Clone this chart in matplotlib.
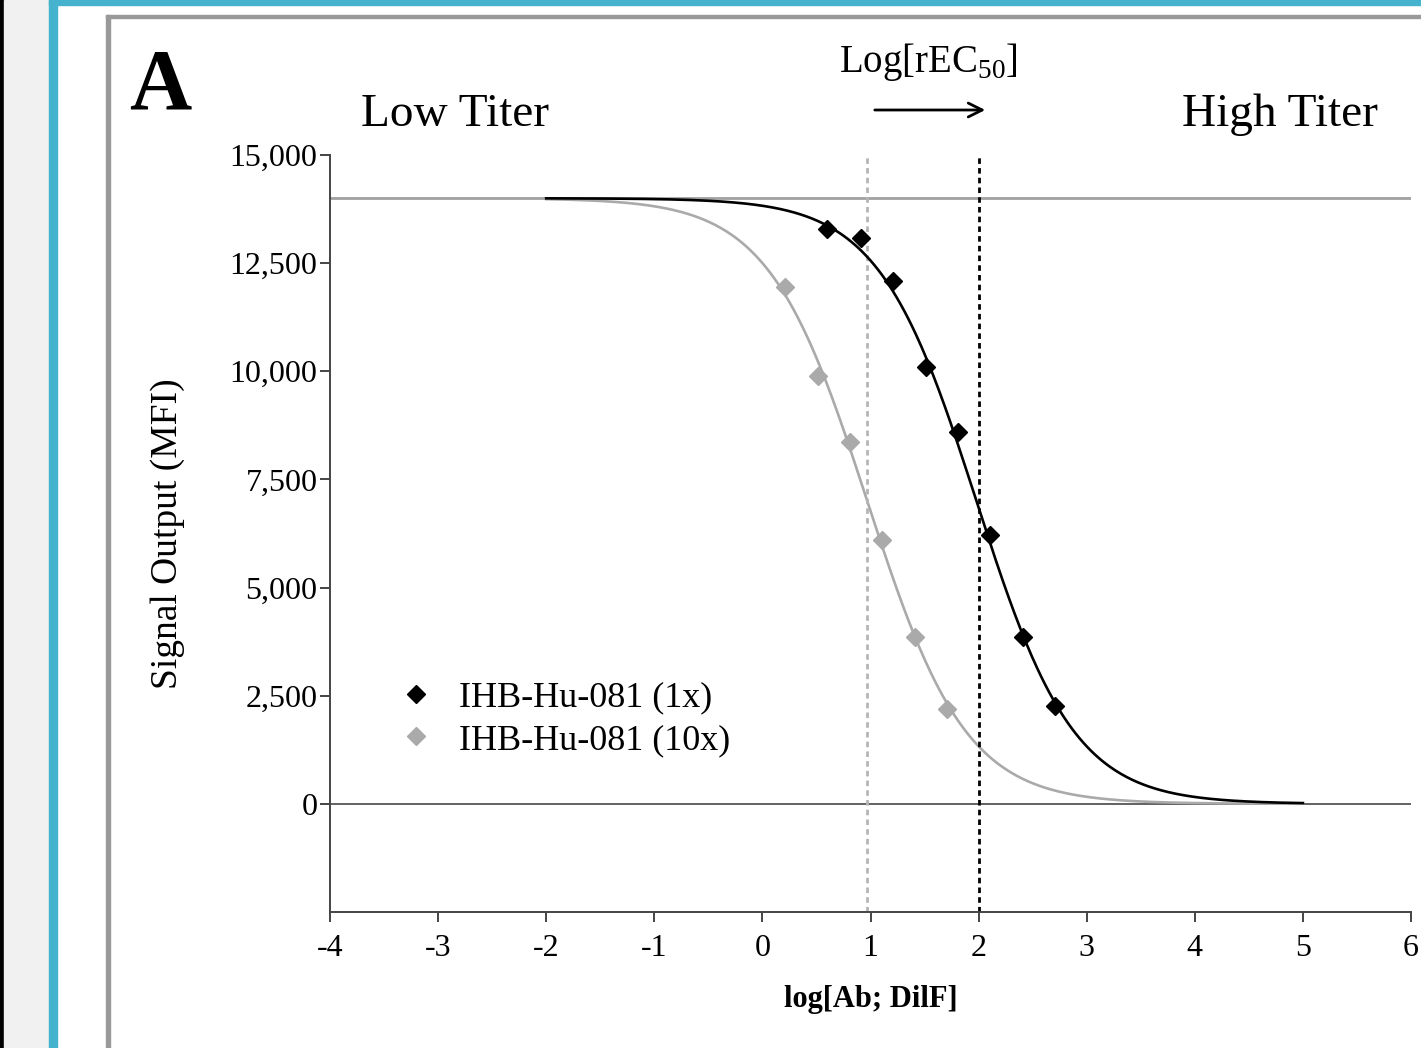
import numpy as np
import matplotlib
matplotlib.use('Agg')
import matplotlib.pyplot as plt
from matplotlib.patches import Rectangle

plt.rcParams['font.family'] = ['Liberation Serif', 'DejaVu Serif']
plt.rcParams['mathtext.fontset'] = 'custom'
plt.rcParams['mathtext.rm'] = 'Liberation Serif'

# data points
x_1x = [0.60, 0.91, 1.21, 1.51, 1.81, 2.11, 2.41, 2.71]
y_1x = [13300, 13080, 12080, 10100, 8600, 6210, 3860, 2260]
x_10x = [0.21, 0.51, 0.81, 1.11, 1.41, 1.71]
y_10x = [11950, 9890, 8360, 6100, 3860, 2200]

# 4PL fit parameters (top, bottom, logEC50, hill)
fit_1x = (14000, 0, 1.98, 0.96)
fit_10x = (14000, 0, 0.97, 0.95)
curve_range = (-2, 5)

xticks = [-4, -3, -2, -1, 0, 1, 2, 3, 4, 5, 6]
yticks = [0, 2500, 5000, 7500, 10000, 12500, 15000]

W, H = 1421, 1048
fig = plt.figure(figsize=(W / 100, H / 100), dpi=100)


def fx(px):
    return px / W


def fy(py):
    return 1 - py / H


# page decorations around the panel
fig.patches.append(Rectangle((0, 0), fx(4), 1, transform=fig.transFigure, color='black'))
fig.patches.append(Rectangle((fx(4), 0), fx(45), 1, transform=fig.transFigure, color='#f1f1f1'))
fig.patches.append(Rectangle((fx(49), 0), fx(8), 1, transform=fig.transFigure, color='#45b3cd'))
fig.patches.append(Rectangle((fx(49), fy(5)), 1, 5 / H, transform=fig.transFigure, color='#45b3cd'))
fig.patches.append(Rectangle((fx(106), 0), fx(4), fy(15), transform=fig.transFigure, color='#999999'))
fig.patches.append(Rectangle((fx(106), fy(18)), 1, 3 / H, transform=fig.transFigure, color='#999999'))

ax = fig.add_axes([fx(330), fy(912), fx(1411 - 330), (912 - 155) / H])
ax.set_xlim(-4, 6)
ax.set_ylim(-2500, 15000)


def four_pl(x, p):
    top, bottom, ec50, h = p
    return bottom + (top - bottom) / (1 + 10 ** ((x - ec50) * h))


xs = np.linspace(curve_range[0], curve_range[1], 400)

ax.axhline(14000, color='#a0a0a0', lw=2.0, zorder=1)
ax.axhline(0, color='#555555', lw=1.3, zorder=1)
ax.plot(xs, four_pl(xs, fit_10x), color='#aaaaaa', lw=1.9, zorder=2)
ax.plot(xs, four_pl(xs, fit_1x), color='black', lw=1.9, zorder=3)

ax.vlines(fit_10x[2], -2500, 15000, color='#b5b5b5', lw=2.0, linestyles=(0, (2, 1.5)), zorder=2)
ax.vlines(fit_1x[2] + 0.02, -2500, 15000, color='black', lw=2.0, linestyles=(0, (2, 1.5)), zorder=2)

ax.plot(x_1x, y_1x, 'D', color='black', ms=9, label='IHB-Hu-081 (1x)', zorder=4)
ax.plot(x_10x, y_10x, 'D', color='#aaaaaa', ms=9, label='IHB-Hu-081 (10x)', zorder=4)

for s in ['top', 'right']:
    ax.spines[s].set_visible(False)
for s in ['left', 'bottom']:
    ax.spines[s].set_color('#444444')
    ax.spines[s].set_linewidth(1.4)

ax.set_xticks(xticks)
ax.set_xticklabels([str(t) for t in xticks])
ax.set_yticks(yticks)
ax.set_yticklabels(['{:,}'.format(t) for t in yticks])
ax.tick_params(axis='both', labelsize=23, color='#444444', width=1.4, length=7)
ax.tick_params(axis='x', pad=9)
ax.tick_params(axis='y', pad=2)

ax.set_xlabel('log[Ab; DilF]', fontsize=22, fontweight='bold', labelpad=16)
ax.set_ylabel('Signal Output (MFI)', fontsize=27, labelpad=32)

leg = ax.legend(loc='upper left', bbox_to_anchor=(fx(383), fy(667)), bbox_transform=fig.transFigure,
                frameon=False, fontsize=26, handlelength=1.0, handletextpad=0.7,
                labelspacing=0.25, borderaxespad=0)

fig.text(fx(160), fy(88), 'A', fontsize=62, fontweight='bold', ha='center', va='center')
fig.text(fx(455), fy(115), 'Low Titer', fontsize=34, ha='center', va='center')
fig.text(fx(1280), fy(115), 'High Titer', fontsize=34, ha='center', va='center')
fig.text(fx(928), fy(62), r'Log[rEC$_{50}$]', fontsize=28, ha='center', va='center')
ax.annotate('', xy=(fx(988), fy(110)), xytext=(fx(872), fy(110)),
            xycoords='figure fraction', textcoords='figure fraction',
            arrowprops=dict(arrowstyle='->', color='black', lw=2, mutation_scale=25))

fig.savefig('out.png', dpi=100)
